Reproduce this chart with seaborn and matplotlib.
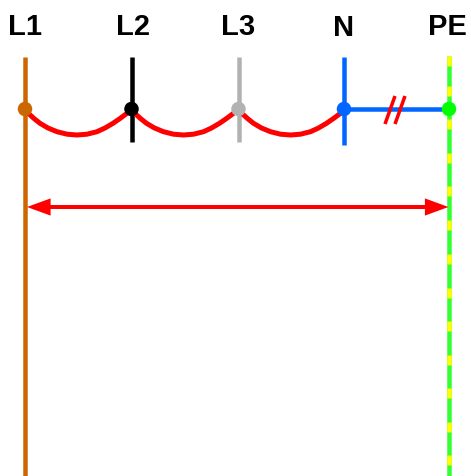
import matplotlib
matplotlib.use("Agg")
import matplotlib.pyplot as plt
import pandas as pd
import seaborn as sns

# conductors, values (pixels)
names = ["L1", "L2", "L3", "N", "PE"]
wire_x = [25, 131.5, 238.5, 344, 449]
wire_top = [57, 57, 57, 57, 56]
wire_bottom = [476, 142, 142, 145, 476]
wire_colors = ["#CC6600", "#000000", "#B2B2B2", "#0066FF", "#33FF33"]
dot_colors = ["#CC6600", "#000000", "#B2B2B2", "#0066FF", "#00FF00"]
label_x = [25, 133, 238, 344, 447.5]
label_base = [35, 35, 35, 36.5, 35]
dot_y = 109

# loops between the lines
arc_dx = [0, 3.3, 9, 15, 23, 32, 42, 52, 62, 72, 80, 88, 95, 102, 107]
arc_y = [110, 113.3, 118.5, 123.3, 128, 131.7, 134.2, 135, 134.2, 131.7, 128, 123.3, 118.5, 113.3, 110]

# yellow stripes on PE
yellow_top = [56, 86, 119, 153, 186, 220, 254, 288, 321, 355, 388, 422, 455]
yellow_len = 9.5

arrow_left = 27
arrow_right = 448.5
arrow_y = 207

slash_x = [[385, 395], [395, 405]]
slash_y = [124, 96]

sns.set_theme(style="white")
plt.rcParams["font.family"] = ["Liberation Sans", "DejaVu Sans"]

fig = plt.figure(figsize=(4.71, 4.76), dpi=100)
ax = fig.add_axes([0, 0, 1, 1])

px = 72 / 100

# wires
for x, top, bottom, c in zip(wire_x, wire_top, wire_bottom, wire_colors):
    df = pd.DataFrame({"x": [x, x], "y": [top, bottom]})
    sns.lineplot(data=df, x="x", y="y", color=c, lw=4.5 * px, estimator=None, sort=False,
                 solid_capstyle="butt", ax=ax)

for t in yellow_top:
    df = pd.DataFrame({"x": [wire_x[4], wire_x[4]], "y": [t, t + yellow_len]})
    sns.lineplot(data=df, x="x", y="y", color="#FFFF00", lw=4.5 * px, estimator=None, sort=False,
                 solid_capstyle="butt", ax=ax)

# N to PE link
df = pd.DataFrame({"x": [wire_x[3], wire_x[4]], "y": [dot_y, dot_y]})
sns.lineplot(data=df, x="x", y="y", color="#0066FF", lw=4.5 * px, estimator=None, sort=False,
             solid_capstyle="butt", ax=ax)

# red loops
for start in wire_x[:3]:
    df = pd.DataFrame({"x": [start + d for d in arc_dx], "y": arc_y})
    sns.lineplot(data=df, x="x", y="y", color="#FF0000", lw=5 * px, estimator=None, sort=False, ax=ax)

# break marks
for sx in slash_x:
    df = pd.DataFrame({"x": sx, "y": slash_y})
    sns.lineplot(data=df, x="x", y="y", color="#FF0000", lw=3.5 * px, estimator=None, sort=False,
                 solid_capstyle="butt", ax=ax)

# dots
dots = pd.DataFrame({"x": wire_x, "y": [dot_y] * 5, "name": names})
sns.scatterplot(data=dots, x="x", y="y", hue="name", palette=dict(zip(names, dot_colors)),
                s=(14.5 * px) ** 2, linewidth=0, legend=False, zorder=5, ax=ax)

# double arrow: shaft and two sharp heads
df = pd.DataFrame({"x": [arrow_left + 15, arrow_right - 15], "y": [arrow_y, arrow_y]})
sns.lineplot(data=df, x="x", y="y", color="#FF0000", lw=4 * px, estimator=None, sort=False,
             solid_capstyle="butt", ax=ax)
for tip, tail in [(arrow_left, arrow_left + 30), (arrow_right, arrow_right - 30)]:
    ax.annotate("", xy=(tip, arrow_y), xytext=(tail, arrow_y),
                arrowprops=dict(arrowstyle="-|>,head_length=1.7,head_width=0.62", color="#FF0000",
                                lw=0, shrinkA=0, shrinkB=0, mutation_scale=10), zorder=6)

for x, y, name in zip(label_x, label_base, names):
    ax.text(x, y, name, ha="center", va="baseline", fontsize=21, fontweight="bold", color="black")

ax.set_xlim(0, 471)
ax.set_ylim(476, 0)
ax.axis("off")

fig.savefig("out.png", dpi=100)
